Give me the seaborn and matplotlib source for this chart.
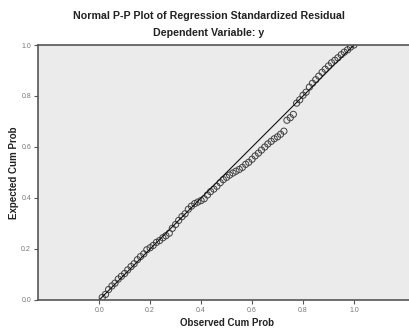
import matplotlib
matplotlib.use("Agg")
import matplotlib.pyplot as plt
import seaborn as sns
import pandas as pd

observed = [0.012, 0.025, 0.037, 0.050, 0.062, 0.075, 0.087, 0.100, 0.112, 0.125,
            0.137, 0.150, 0.162, 0.175, 0.187, 0.200, 0.212, 0.225, 0.237, 0.250,
            0.262, 0.275, 0.287, 0.300, 0.312, 0.325, 0.337, 0.350, 0.362, 0.375,
            0.387, 0.400, 0.412, 0.425, 0.437, 0.450, 0.462, 0.475, 0.487, 0.500,
            0.512, 0.525, 0.537, 0.550, 0.562, 0.575, 0.587, 0.600, 0.612, 0.625,
            0.637, 0.650, 0.662, 0.675, 0.687, 0.700, 0.712, 0.725, 0.737, 0.750,
            0.762, 0.775, 0.787, 0.800, 0.812, 0.825, 0.837, 0.850, 0.862, 0.875,
            0.887, 0.900, 0.912, 0.925, 0.937, 0.950, 0.962, 0.975, 0.987, 1.000]
expected = [0.010, 0.022, 0.041, 0.055, 0.066, 0.082, 0.093, 0.104, 0.118, 0.131,
            0.142, 0.158, 0.170, 0.181, 0.197, 0.205, 0.214, 0.226, 0.233, 0.244,
            0.252, 0.262, 0.281, 0.296, 0.312, 0.327, 0.338, 0.356, 0.368, 0.378,
            0.384, 0.390, 0.397, 0.412, 0.425, 0.435, 0.446, 0.460, 0.472, 0.481,
            0.490, 0.498, 0.505, 0.512, 0.520, 0.532, 0.540, 0.552, 0.565, 0.576,
            0.588, 0.600, 0.612, 0.622, 0.632, 0.640, 0.650, 0.662, 0.705, 0.715,
            0.728, 0.772, 0.785, 0.803, 0.815, 0.835, 0.850, 0.864, 0.878, 0.893,
            0.905, 0.918, 0.930, 0.940, 0.950, 0.962, 0.972, 0.981, 0.992, 1.000]
ref_x = [0.0, 1.0]
ref_y = [0.0, 1.0]
tick_vals = [0.0, 0.2, 0.4, 0.6, 0.8, 1.0]
tick_labels = ["0.0", "0.2", "0.4", "0.6", "0.8", "1.0"]
title = "Normal P-P Plot of Regression Standardized Residual"
subtitle = "Dependent Variable: y"
xlabel = "Observed Cum Prob"
ylabel = "Expected Cum Prob"

sns.set_style("white")
plt.rcParams['font.family'] = ['Liberation Sans', 'DejaVu Sans']

fig = plt.figure(figsize=(4.09, 3.28), dpi=100)
ax = fig.add_axes([0.093, 0.0854, 0.907, 0.7774])
ax.set_facecolor("#ebebeb")

df = pd.DataFrame({"obs": observed, "exp": expected})
sns.lineplot(x=ref_x, y=ref_y, ax=ax, color="#111111", linewidth=0.8)
sns.scatterplot(data=df, x="obs", y="exp", ax=ax, marker="o", s=20,
                facecolor="none", edgecolor="#404040", linewidth=0.7)

ax.set_xlim(-0.24, 1.216)
ax.set_ylim(0.0, 1.0)
ax.set_xticks(tick_vals)
ax.set_xticklabels(tick_labels)
ax.set_yticks(tick_vals)
ax.set_yticklabels(tick_labels)
ax.tick_params(axis="both", direction="out", length=3, width=0.8, colors="#555555",
               labelsize=5, pad=2, labelcolor="#777777")
ax.tick_params(left=True, bottom=True)

for side in ["left", "bottom", "top"]:
    ax.spines[side].set_color("#555555")
    ax.spines[side].set_linewidth(1.2)
ax.spines["right"].set_visible(False)

ax.set_xlabel(xlabel, fontsize=7, fontweight="bold", color="#222222", labelpad=3)
ax.set_ylabel(ylabel, fontsize=7, fontweight="bold", color="#222222", labelpad=6)
ax.xaxis.set_label_coords((0.5 + 0.24) / 1.456, -0.07)
ax.yaxis.set_label_coords(-0.052, 0.5)

fig.text(0.511, 0.951, title, ha="center", va="center", fontsize=7.7,
         fontweight="bold", color="#222222")
fig.text(0.511, 0.899, subtitle, ha="center", va="center", fontsize=7.7,
         fontweight="bold", color="#222222")

fig.savefig("out.png", dpi=100)
